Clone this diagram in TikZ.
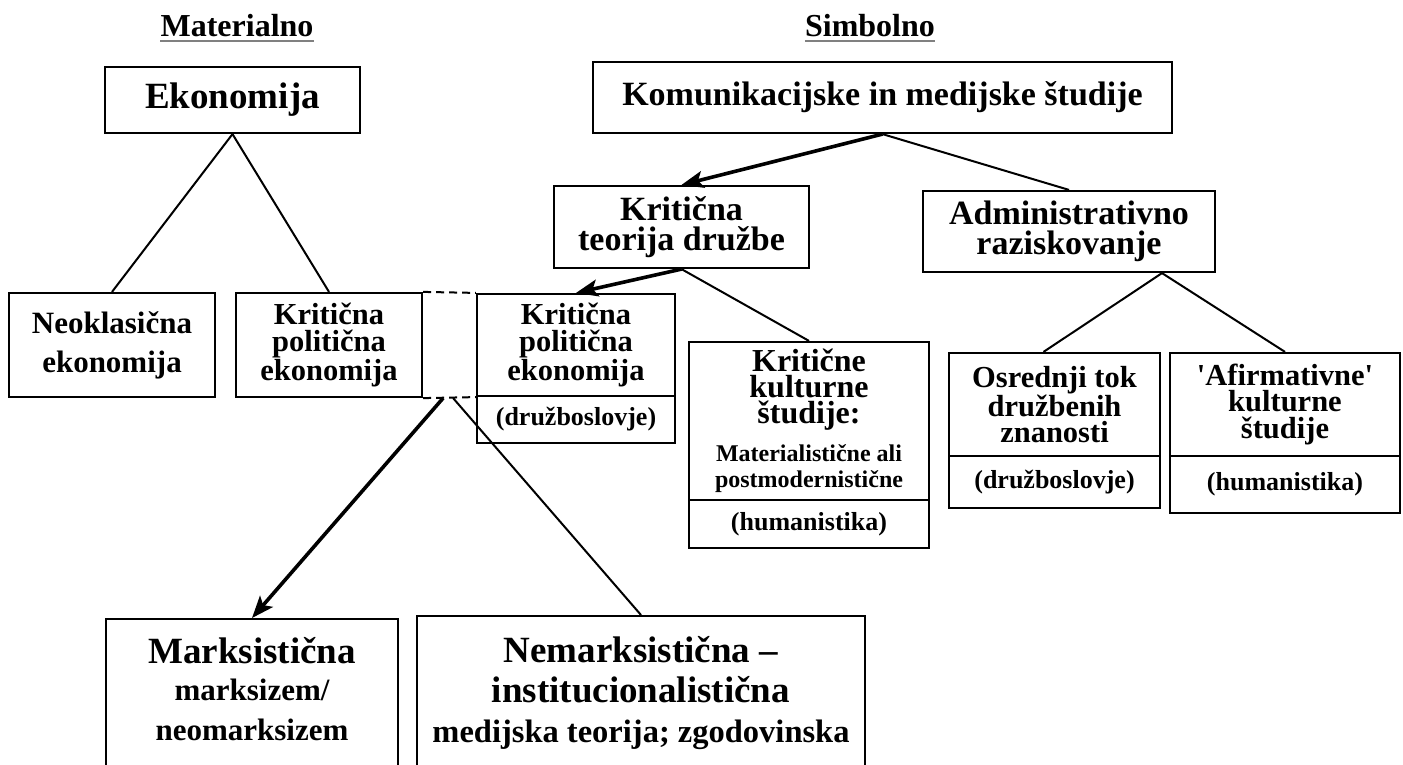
\documentclass[tikz,border=0pt]{standalone}
\usepackage{fontspec}
\setmainfont{Liberation Serif}
\usetikzlibrary{arrows.meta,calc}
\newcommand\myfs[2]{\fontsize{#1pt}{#2pt}\selectfont\bfseries}
\begin{document}
\begin{tikzpicture}[x=1pt,y=-1pt,
  box/.style={draw, line width=2.2pt, inner sep=0pt, align=center, text=black},
  thinline/.style={line width=2pt},
  thickarrow/.style={line width=3.6pt, -{Stealth[length=22pt,width=17pt,inset=5pt]}},
  dashline/.style={line width=2pt, dash pattern=on 8pt off 5pt},
  hdr/.style={inner sep=0pt, font=\myfs{32}{36}},
  ulin/.style={draw=gray, line width=2.5pt}
]
\clip (0,0) rectangle (1403,764);
\fill[white] (0,0) rectangle (1403,764);

% headers
\node[hdr, anchor=base] (hmat) at (237,36) {Materialno};
\node[hdr, anchor=base] (hsim) at (870,36) {Simbolno};
\draw[ulin] ($(hmat.base west)+(0,5)$) -- ($(hmat.base east)+(0,5)$);
\draw[ulin] ($(hsim.base west)+(0,5)$) -- ($(hsim.base east)+(0,5)$);

% top level
\node[box, minimum width=255pt, minimum height=66pt, font=\myfs{37}{40}] (ekon) at (232.5,100) {Ekonomija};
\node[box, minimum width=579pt, minimum height=71pt, font=\myfs{34}{38}] (kom) at (882.5,97.5) {Komunikacijske in medijske študije};

% second level
\node[box, minimum width=255pt, minimum height=82pt, font=\myfs{34}{30}] (ktd) at (681.5,227) {Kritična\\teorija družbe};
\node[box, minimum width=292pt, minimum height=81pt, font=\myfs{34}{30}] (adm) at (1069,231.5) {Administrativno\\raziskovanje};

% left boxes
\node[box, minimum width=206pt, minimum height=104pt, font=\myfs{31}{39}] (neo) at (112,345) {Neoklasična\\ekonomija};
\node[box, minimum width=186pt, minimum height=104pt, font=\myfs{30.5}{27.5}] (kpel) at (329,345) {Kritična\\politična\\ekonomija};

% critical political economy (right)
\node[box, minimum width=198pt, minimum height=102pt, font=\myfs{30.5}{27}] (kper) at (576,345) {Kritična\\politična\\ekonomija};
\node[box, minimum width=198pt, minimum height=47pt, font=\myfs{26}{30}] (kperb) at (576,419.5) {(družboslovje)};

% critical cultural studies
\node[box, minimum width=240pt, minimum height=158pt, font=\myfs{32}{26}] (kks) at (809,421) {Kritične\\kulturne\\študije:\\[12pt]\myfs{24}{22}Materialistične ali\\\myfs{24}{22}postmodernistične};
\node[box, minimum width=240pt, minimum height=48pt, font=\myfs{26}{30}] (kksb) at (809,524) {(humanistika)};

% administrative research children
\node[box, minimum width=211pt, minimum height=103pt, font=\myfs{30.5}{26.5}] (osr) at (1054.5,404.5) {Osrednji tok\\družbenih\\znanosti};
\node[box, minimum width=211pt, minimum height=52pt, font=\myfs{26}{30}] (osrb) at (1054.5,482) {(družboslovje)};
\node[box, minimum width=230pt, minimum height=103pt, font=\myfs{30.5}{26.5}] (afi) at (1285,404.5) {\textquotesingle Afirmativne\textquotesingle\\kulturne\\študije};
\node[box, minimum width=230pt, minimum height=57pt, font=\myfs{26}{30}] (afib) at (1285,484.5) {(humanistika)};

% bottom boxes
\node[box, anchor=north, minimum width=292pt, minimum height=150pt, font=\myfs{37}{40}] (marks) at (252,618) {Marksistična\\[-3pt]\myfs{31}{36}marksizem/\\\myfs{31}{30}neomarksizem\rule[-11pt]{0pt}{11pt}};
\node[box, anchor=north, minimum width=448pt, minimum height=153pt, font=\myfs{37}{40}] (nemark) at (641,615) {Nemarksistična --\\institucionalistična\\\myfs{32.5}{31}medijska teorija; zgodovinska};

% connectors
\draw[thinline] (ekon.south) -- (neo.north);
\draw[thinline] (ekon.south) -- (kpel.north);
\draw[thickarrow] (kom.south) -- (ktd.north);
\draw[thinline] (kom.south) -- (adm.north);
\draw[thickarrow] (ktd.south) -- (kper.north);
\draw[thinline] (ktd.south) -- (kks.north);
\coordinate (admb) at ($(adm.south)+(93,0)$);
\draw[thinline] (admb) -- ($(osr.north)+(-11,0)$);
\draw[thinline] (admb) -- (afi.north);
\draw[dashline] (kpel.north east) -- (kper.north west);
\draw[dashline] (kpel.south east) -- (kper.south west);
\coordinate (ks1) at ($(kpel.south east)+(20,0)$);
\coordinate (ks2) at ($(kpel.south east)+(30,0)$);
\draw[thickarrow] (ks1) -- (marks.north);
\draw[thinline] (ks2) -- (nemark.north);
\end{tikzpicture}
\end{document}
